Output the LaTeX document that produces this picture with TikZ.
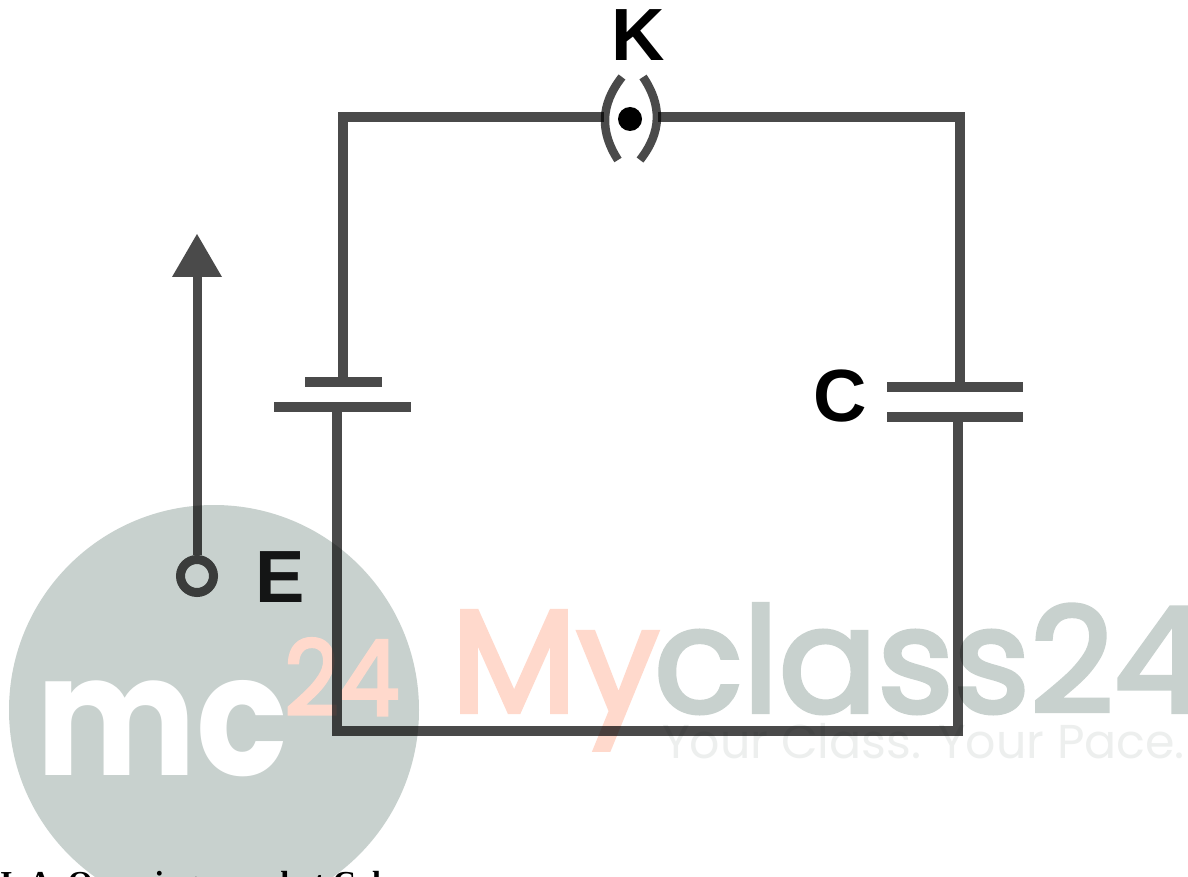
\documentclass[tikz,border=0pt]{standalone}
\usepackage{fontspec}
\setmainfont{Liberation Sans}
\newfontfamily\wmfont[FakeBold=3]{Poppins}
\newfontfamily\wmlight{Poppins}
\newfontfamily\capfont{Liberation Serif}
\definecolor{wire}{HTML}{4A4A4A}
\definecolor{wmgrey}{HTML}{C8D1CE}
\definecolor{wmorange}{HTML}{FFD9CC}
\definecolor{wmfaint}{HTML}{EDEFEE}
\tikzset{
  x=1pt,y=-1pt,
  wireline/.style={draw=wire,line width=9.5pt,line cap=butt,line join=miter},
  plate/.style={draw=wire,line width=10pt},
  arc/.style={draw=wire,line width=8.5pt},
  lab/.style={font=\fontsize{74}{74}\selectfont\bfseries,text=black,inner sep=0pt,anchor=center},
  wm/.style={inner sep=0pt,anchor=base west},
}
\begin{document}
\begin{tikzpicture}
\useasboundingbox (0,0) rectangle (1188,877);
\clip (0,0) rectangle (1188,877);
\fill[white] (0,0) rectangle (1188,877);
% watermark
\fill[wmgrey] (214,710) circle[radius=205];
\node[wm,text=white,xscale=.9,transform shape] (mc) at (36,775) {\wmlight\fontsize{168}{168}\selectfont\bfseries mc};
\node[wm,text=wmorange,xscale=.92,transform shape] (n24) at (284,715) {\wmfont\fontsize{104}{104}\selectfont 24};
\node[wm,text=wmorange] (my) at (451,712) {\wmfont\fontsize{146}{146}\selectfont My};
\node[wm,text=wmgrey] (cl) at (654,712) {\wmfont\fontsize{146}{146}\selectfont class24};
\node[wm,text=wmfaint] (pace) at (662,758) {\wmlight\fontsize{47.5}{47.5}\selectfont Your Class. Your Pace.};
% caption cut by the lower edge
\node[inner sep=0pt,anchor=base west,text=black] (cap) at (0,893) {\capfont\fontsize{32}{32}\selectfont\bfseries I. A. Querying are what Cal};
\begin{scope}[blend mode=multiply]
\coordinate (swl) at (604,117);
\coordinate (swr) at (658,117);
\draw[wireline] (swl) -- (343,117) -- (343,377);
\draw[wireline] (swr) -- (960,117) -- (960,382);
\draw[wireline] (337,412) -- (337,731) -- (958,731) -- (958,422);
\draw[arc] (622,77) .. controls (600,105) and (600,132) .. (618,160);
\draw[arc] (643,77) .. controls (662,105) and (662,132) .. (640,160);
\fill[black] (630,119) circle[radius=12];
% battery
\draw[plate] (305,382) -- (382,382);
\draw[plate] (274,407) -- (411,407);
% capacitor
\draw[plate] (887,387) -- (1023,387);
\draw[plate] (887,417) -- (1023,417);
% field arrow
\draw[wire,line width=9pt] (197,277) -- (197,555);
\fill[wire] (197,234) -- (222,277) -- (172,277) -- cycle;
\draw[wire,line width=9pt] (197,576) circle[radius=16.5];
\end{scope}
\node[lab] (K) at (638.5,35.5) {K};
\node[lab] (C) at (840,396.5) {C};
\node[lab,text=black!90!wmgrey] (E) at (280,577) {E};
\end{tikzpicture}
\end{document}
